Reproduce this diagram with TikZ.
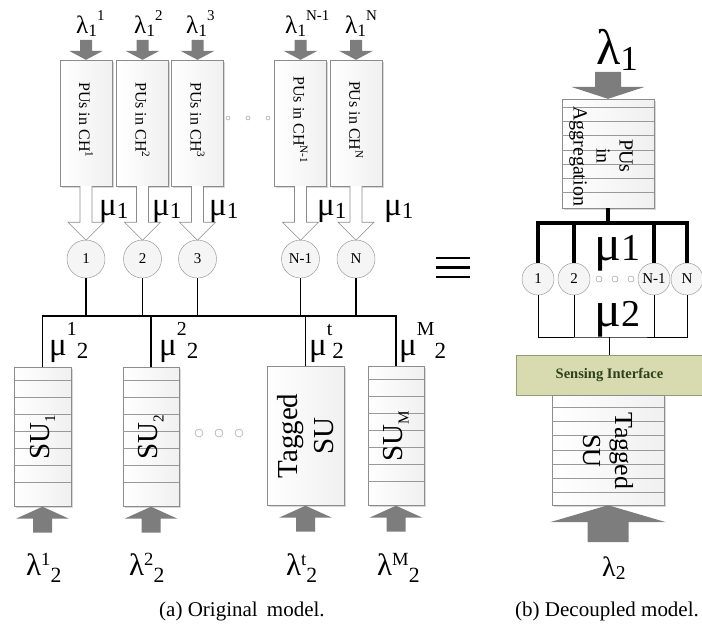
\documentclass[tikz,border=0pt]{standalone}
\usepackage{fontspec}
\setmainfont{Liberation Serif}
\usepackage{graphicx}
\usetikzlibrary{positioning, shadows, calc}

\definecolor{arrowgray}{RGB}{125,125,125}
\definecolor{boxline}{RGB}{140,140,140}
\definecolor{boxfill}{RGB}{240,240,240}
\definecolor{sensefill}{RGB}{216,219,176}
\definecolor{senseline}{RGB}{150,152,120}
\definecolor{sensetext}{RGB}{45,65,30}

\newcommand{\dnidx}[2][-0.12em]{\raisebox{#1}{\scalebox{0.7}{#2}}}
\newcommand{\upidx}[2][0.5em]{\raisebox{#1}{\scalebox{0.6}{#2}}}

\tikzset{
  qbox/.style={draw=boxline, left color=white, right color=boxfill, inner sep=0pt,
    drop shadow={shadow xshift=1.5pt, shadow yshift=-1.5pt, fill=black!30, opacity=0.5}},
  stripe/.style={draw=black!40, line width=0.4pt},
  chan/.style={circle, draw=boxline, fill=gray!8, inner sep=0pt, font=\fontsize{15}{15}\selectfont},
  blockarrow/.style={fill=arrowgray},
  hollowarrow/.style={draw=boxline, fill=white, line width=0.6pt},
  busline/.style={line width=1.6pt},
  thinline/.style={line width=0.8pt},
  lab/.style={anchor=base west, inner sep=0pt},
}

\begin{document}
\begin{tikzpicture}[x=1pt, y=-1pt]
    \useasboundingbox (0,0) rectangle (702,625);

    % (a) Original model
    % PU queues, one per channel
    \node[qbox, minimum width=52, minimum height=126] (pu1) at (86,123) {};
    \node[qbox, minimum width=52, minimum height=126] (pu2) at (142.5,123) {};
    \node[qbox, minimum width=52, minimum height=126] (pu3) at (197.5,123) {};
    \node[qbox, minimum width=52, minimum height=126] (puN1) at (300.5,123) {};
    \node[qbox, minimum width=52, minimum height=126] (puN) at (356,123) {};
    \foreach \n/\t in {pu1/1, pu2/2, pu3/3, puN1/N-1, puN/N}
      \node[rotate=-90, font=\fontsize{16}{18}\selectfont] (\n txt) at ([yshift=3pt]\n.center) {PUs in CH\textsuperscript{\t}};

    % dots between channels
    \foreach \x in {228,248,268}
      \draw[boxline, fill=white] (\x,118) circle (2);

    % arrivals on top
    \node[lab, font=\fontsize{25}{25}\selectfont] (lam11) at (76,33) {λ\dnidx{1}\upidx{1}};
    \node[lab, font=\fontsize{25}{25}\selectfont] (lam12) at (134,33) {λ\dnidx{1}\upidx{2}};
    \node[lab, font=\fontsize{25}{25}\selectfont] (lam13) at (186,33) {λ\dnidx{1}\upidx{3}};
    \node[lab, font=\fontsize{25}{25}\selectfont] (lam1N1) at (285,33) {λ\dnidx{1}\upidx{N-1}};
    \node[lab, font=\fontsize{25}{25}\selectfont] (lam1N) at (345,33) {λ\dnidx{1}\upidx{N}};
    \foreach \n in {pu1,pu2,pu3,puN1,puN}
      \fill[blockarrow, shift={(\n.north)}] (-6,-20) -- (6,-20) -- (6,-9) -- (17,-9)
        -- (0,0) -- (-17,-9) -- (-6,-9) -- cycle;

    % channel servers
    \node[chan, minimum size=38] (c1) at (86,259) {1};
    \node[chan, minimum size=38] (c2) at (142.5,259) {2};
    \node[chan, minimum size=38] (c3) at (197.5,259) {3};
    \node[chan, minimum size=38] (cN1) at (300.5,259) {N-1};
    \node[chan, minimum size=38] (cN) at (356,259) {N};

    % service of PUs
    \foreach \n in {pu1,pu2,pu3,puN1,puN}
      \draw[hollowarrow, shift={(\n.south)}] (-6,0) -- (-6,36) -- (-18,36) -- (0,54)
        -- (18,36) -- (6,36) -- (6,0);
    \node[lab, font=\fontsize{33}{33}\selectfont] (mu11) at (99,215) {μ\dnidx{1}};
    \node[lab, font=\fontsize{33}{33}\selectfont] (mu12) at (152,215) {μ\dnidx{1}};
    \node[lab, font=\fontsize{33}{33}\selectfont] (mu13) at (209,215) {μ\dnidx{1}};
    \node[lab, font=\fontsize{33}{33}\selectfont] (mu1N1) at (317,215) {μ\dnidx{1}};
    \node[lab, font=\fontsize{33}{33}\selectfont] (mu1N) at (384,215) {μ\dnidx{1}};

    % equivalence sign
    \draw[line width=2.5pt] (436,258) -- (470,258);
    \draw[line width=2.5pt] (436,267.5) -- (470,267.5);
    \draw[line width=2.5pt] (436,277) -- (470,277);

    % SU queues
    \node[qbox, minimum width=57, minimum height=139] (su1) at (42.5,437) {};
    \node[qbox, minimum width=56, minimum height=139] (su2) at (151,437) {};
    \node[qbox, minimum width=77, minimum height=139] (sut) at (305.5,436) {};
    \node[qbox, minimum width=56, minimum height=139] (suM) at (396,436) {};
    \foreach \b in {su1,su2,suM}
      \foreach \k in {0,...,6}
        \draw[stripe] ([yshift=-13pt-17pt*\k]\b.north west) -- ([yshift=-13pt-17pt*\k]\b.north east);
    \node[rotate=90, font=\fontsize{29}{29}\selectfont] (su1txt) at (su1) {SU\dnidx[-0.2em]{\scalebox{0.75}{1}}};
    \node[rotate=90, font=\fontsize{29}{29}\selectfont] (su2txt) at (su2) {SU\dnidx[-0.2em]{\scalebox{0.75}{2}}};
    \node[rotate=90, align=center, font=\fontsize{29}{36}\selectfont] (suttxt) at (sut) {Tagged\\SU};
    \node[rotate=90, font=\fontsize{29}{29}\selectfont] (suMtxt) at (suM) {SU\dnidx[-0.2em]{\scalebox{0.75}{M}}};
    \foreach \x in {199,219,239}
      \draw[boxline, fill=white] (\x,433) circle (4);

    % common bus from channels to SUs
    \coordinate (bus) at (200,316);
    \draw[busline] (su1.north) |- (bus) -| (suM.north);
    \draw[busline] (su2.north) -- (su2.north |- bus);
    \draw[busline] (sut.north) -- (sut.north |- bus);
    \foreach \c in {c1,c2,c3,cN1,cN}
      \draw[busline] (\c.south) -- (\c.south |- bus);
    \node[lab, font=\fontsize{33}{33}\selectfont] (mu21) at (49,355) {μ\upidx[0.6em]{1}\dnidx{2}};
    \node[lab, font=\fontsize{33}{33}\selectfont] (mu22) at (159,355) {μ\upidx[0.6em]{2}\dnidx{2}};
    \node[lab, font=\fontsize{33}{33}\selectfont] (mu2t) at (309,355) {μ\upidx[0.6em]{t}\dnidx{2}};
    \node[lab, font=\fontsize{33}{33}\selectfont] (mu2M) at (399,355) {μ\upidx[0.6em]{M}\dnidx{2}};

    % SU arrivals
    \foreach \n in {su1,su2,sut,suM}
      \fill[blockarrow, shift={(\n.south)}] (0,0) -- (26.5,12) -- (9.5,12) -- (9.5,26)
        -- (-9.5,26) -- (-9.5,12) -- (-26.5,12) -- cycle;
    \node[lab, font=\fontsize{31}{31}\selectfont] (lam21) at (26,575) {λ\upidx[0.3em]{1}\dnidx[-0.25em]{2}};
    \node[lab, font=\fontsize{31}{31}\selectfont] (lam22) at (129,575) {λ\upidx[0.3em]{2}\dnidx[-0.25em]{2}};
    \node[lab, font=\fontsize{31}{31}\selectfont] (lam2t) at (286,575) {λ\upidx[0.3em]{t}\dnidx[-0.25em]{2}};
    \node[lab, font=\fontsize{31}{31}\selectfont] (lam2M) at (377,575) {λ\upidx[0.3em]{M}\dnidx[-0.25em]{2}};

    \node[lab, font=\fontsize{21}{21}\selectfont] (capa) at (159,616) {(a) Original\hspace{4pt} model.};

    % (b) Decoupled model
    \node[lab, font=\fontsize{50}{50}\selectfont] (rlam1) at (596,64) {λ\dnidx[-0.12em]{1}};
    \node[qbox, minimum width=92, minimum height=109] (agg) at (608,153.5) {};
    \foreach \k in {0,...,6}
      \draw[stripe] ([yshift=-8pt-14.3pt*\k]agg.north west) -- ([yshift=-8pt-14.3pt*\k]agg.north east);
    \node[rotate=-90, align=center, font=\fontsize{20}{23}\selectfont] (aggtxt) at (601,156) {PUs\\in\\Aggregation};
    \fill[blockarrow, shift={(agg.north)}] (-13,-27) -- (13,-27) -- (13,-12) -- (37,-12)
      -- (0,0) -- (-37,-12) -- (-13,-12) -- cycle;

    % channels in aggregation
    \node[chan, minimum size=32] (r1) at (538,279) {1};
    \node[chan, minimum size=32] (r2) at (574,279) {2};
    \node[chan, minimum size=32] (rN1) at (654,279) {N-1};
    \node[chan, minimum size=32] (rN) at (687,279) {N};
    \foreach \x in {599,615,631}
      \draw[boxline, fill=white] (\x,279) circle (3);

    \coordinate (rbus) at (608,223);
    \draw[line width=3.5pt] (agg.south) -- (rbus);
    \draw[line width=3.5pt] (r1.north) |- (rbus) -| (rN.north);
    \draw[line width=3.5pt] (r2.north) -- (r2.north |- rbus);
    \draw[line width=3.5pt] (rN1.north) -- (rN1.north |- rbus);
    \node[lab, font=\fontsize{50}{50}\selectfont] (rmu1) at (594,260) {μ{\fontsize{38}{38}\selectfont 1}};

    \coordinate (rlow) at (608,337);
    \draw[thinline] (r1.south) |- (rlow) -| (rN.south);
    \draw[thinline] (r2.south) -- (r2.south |- rlow);
    \draw[thinline] (rN1.south) -- (rN1.south |- rlow);
    \node[lab, font=\fontsize{50}{50}\selectfont] (rmu2) at (594,326) {μ{\fontsize{38}{38}\selectfont 2}};

    % sensing interface and tagged SU
    \node[draw=senseline, fill=sensefill, minimum width=187, minimum height=40,
      font=\bfseries\fontsize{14.5}{16}\selectfont, text=sensetext] (sense) at (609.5,375) {Sensing Interface};
    \draw[thinline] (sense.north) -- (sense.north |- rlow);
    \node[qbox, minimum width=112, minimum height=110] (rsu) at (608,450) {};
    \foreach \k in {0,...,6}
      \draw[stripe] ([yshift=-12pt-14.3pt*\k]rsu.north west) -- ([yshift=-12pt-14.3pt*\k]rsu.north east);
    \node[rotate=-90, align=center, font=\fontsize{26}{32}\selectfont] (rsutxt) at (608,451) {Tagged\\SU};
    \fill[blockarrow, shift={(rsu.south)}] (0,0) -- (58,17) -- (20.5,17) -- (20.5,37)
      -- (-20.5,37) -- (-20.5,17) -- (-58,17) -- cycle;
    \node[lab, font=\fontsize{28}{28}\selectfont] (rlam2) at (602,576) {λ\dnidx{2}};

    \node[lab, font=\fontsize{21}{21}\selectfont] (capb) at (515,616) {(b) Decoupled model.};
\end{tikzpicture}
\end{document}
